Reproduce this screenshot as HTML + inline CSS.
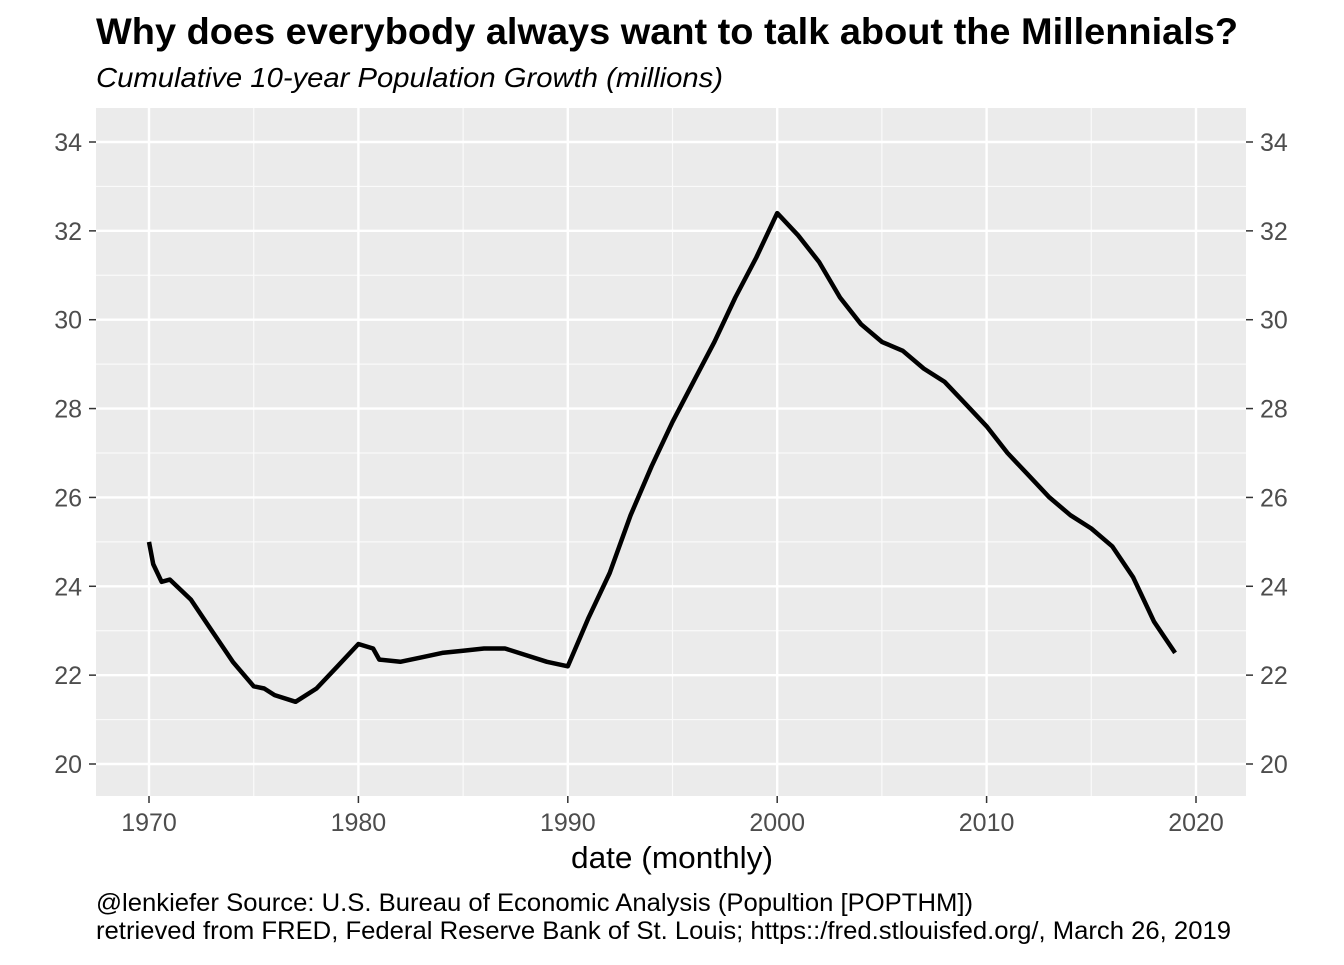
<!DOCTYPE html>
<html><head><meta charset="utf-8"><style>
body{margin:0;background:#fff;font-family:"Liberation Sans",sans-serif}
</style></head><body>
<svg width="1344" height="960" xmlns="http://www.w3.org/2000/svg" font-family="Liberation Sans, sans-serif">
<text x="96" y="44" font-size="37" font-weight="bold" fill="#000" textLength="1142" lengthAdjust="spacingAndGlyphs">Why does everybody always want to talk about the Millennials?</text>
<text x="96" y="87" font-size="28" font-style="italic" fill="#000" textLength="627" lengthAdjust="spacingAndGlyphs">Cumulative 10-year Population Growth (millions)</text>
<rect x="96" y="108" width="1150" height="688" fill="#ebebeb"/>
<g id="grid"></g><g id="axes"></g>
<path id="line" fill="none" stroke="#000" stroke-width="4.5" stroke-linejoin="round"/>
<text x="672" y="868" font-size="31" text-anchor="middle" fill="#000" textLength="202" lengthAdjust="spacingAndGlyphs">date (monthly)</text>
<text x="96" y="911" font-size="25" fill="#000" textLength="877" lengthAdjust="spacingAndGlyphs">@lenkiefer Source: U.S. Bureau of Economic Analysis (Popultion [POPTHM])</text>
<text x="96" y="939" font-size="25" fill="#000" textLength="1135" lengthAdjust="spacingAndGlyphs">retrieved from FRED, Federal Reserve Bank of St. Louis; https::/fred.stlouisfed.org/, March 26, 2019</text>
</svg>
<script>
const years=[1970,1970.2,1970.6,1971,1972,1973,1974,1975,1975.5,1976,1977,1978,1979,1980,1980.7,1981,1982,1983,1984,1985,1986,1987,1988,1989,1990,1991,1992,1993,1994,1995,1996,1997,1998,1999,2000,2001,2002,2003,2004,2005,2006,2007,2008,2009,2010,2011,2012,2013,2014,2015,2016,2017,2018,2019];
const values=[25.0,24.5,24.1,24.15,23.7,23.0,22.3,21.75,21.7,21.55,21.4,21.7,22.2,22.7,22.6,22.35,22.3,22.4,22.5,22.55,22.6,22.6,22.45,22.3,22.2,23.3,24.3,25.6,26.7,27.7,28.6,29.5,30.5,31.4,32.4,31.9,31.3,30.5,29.9,29.5,29.3,28.9,28.6,28.1,27.6,27.0,26.5,26.0,25.6,25.3,24.9,24.2,23.2,22.5];
const xTicks=[1970,1980,1990,2000,2010,2020];
const yTicks=[20,22,24,26,28,30,32,34];
const X=v=>149+(v-1970)*(1196-149)/50;
const Y=v=>764-(v-20)*(764-142)/14;
const NS="http://www.w3.org/2000/svg";
const grid=document.getElementById('grid'),axes=document.getElementById('axes');
function ln(p,x1,y1,x2,y2,c,w){const l=document.createElementNS(NS,'line');l.setAttribute('x1',x1);l.setAttribute('y1',y1);l.setAttribute('x2',x2);l.setAttribute('y2',y2);l.setAttribute('stroke',c);l.setAttribute('stroke-width',w);p.appendChild(l);return l;}
function tx(p,x,y,s,a){const t=document.createElementNS(NS,'text');t.setAttribute('x',x);t.setAttribute('y',y);t.setAttribute('font-size',25);t.setAttribute('fill','#4d4d4d');t.setAttribute('text-anchor',a);t.textContent=s;p.appendChild(t);return t;}
for(let i=0;i<yTicks.length-1;i++){const m=(yTicks[i]+yTicks[i+1])/2;const l=ln(grid,96,Y(m),1246,Y(m),'#fafafa',1.2);

}
for(let i=0;i<xTicks.length-1;i++){const m=(xTicks[i]+xTicks[i+1])/2;const l=ln(grid,X(m),108,X(m),796,'#fafafa',1.2);

}
yTicks.forEach(v=>{const l=ln(grid,96,Y(v),1246,Y(v),'#fff',2.4);


ln(axes,89,Y(v),96,Y(v),'#333',1.5);ln(axes,1246,Y(v),1253,Y(v),'#333',1.5);
const a=tx(axes,82,Y(v)+9,v,'end');


const b=tx(axes,1260,Y(v)+9,v,'start');

});
xTicks.forEach(v=>{const l=ln(grid,X(v),108,X(v),796,'#fff',2.4);


ln(axes,X(v),796,X(v),803,'#333',1.5);
const t=tx(axes,X(v),831,v,'middle');

});
document.getElementById('line').setAttribute('d',years.map((y,i)=>(i?'L':'M')+X(y).toFixed(1)+','+Y(values[i]).toFixed(1)).join(''));
</script>
</body></html>
